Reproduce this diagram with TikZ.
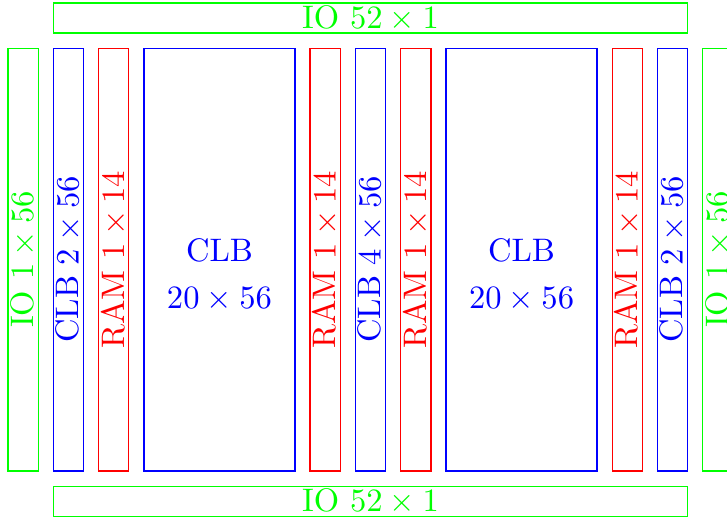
\documentclass[tikz,border=0pt]{standalone}
\usetikzlibrary{calc}

\begin{document}
\begin{tikzpicture}[x=0.163cm, y=0.163cm]
\useasboundingbox (-0.53,-3.38) rectangle (47.6,31.19);
% io ring
\draw[green] (3,29) rectangle (45,31) node[midway] (ioN) {IO $52\times1$};
\draw[green] (3,-3) rectangle (45,-1) node[midway] (ioS) {IO $52\times1$};
\foreach \x in {0,46} {
 \draw[green] (\x,0) rectangle ++(2,28) node[midway, rotate=90] (io\x) {IO $1\times56$};
}
% narrow columns
\foreach \x/\c/\t in {3/blue/CLB $2\times56$, 6/red/RAM $1\times14$,
  20/red/RAM $1\times14$, 23/blue/CLB $4\times56$, 26/red/RAM $1\times14$,
  40/red/RAM $1\times14$, 43/blue/CLB $2\times56$} {
 \draw[\c] (\x,0) rectangle ++(2,28) node[midway, rotate=90] (col\x) {\t};
}
% wide clb blocks
\foreach \x in {9,29} {
 \draw[blue] (\x,0) rectangle ++(10,28) node[midway, align=center, yshift=-4.8pt] (clb\x) {CLB\\[2.4pt]$20\times56$};
}
\end{tikzpicture}
\end{document}
